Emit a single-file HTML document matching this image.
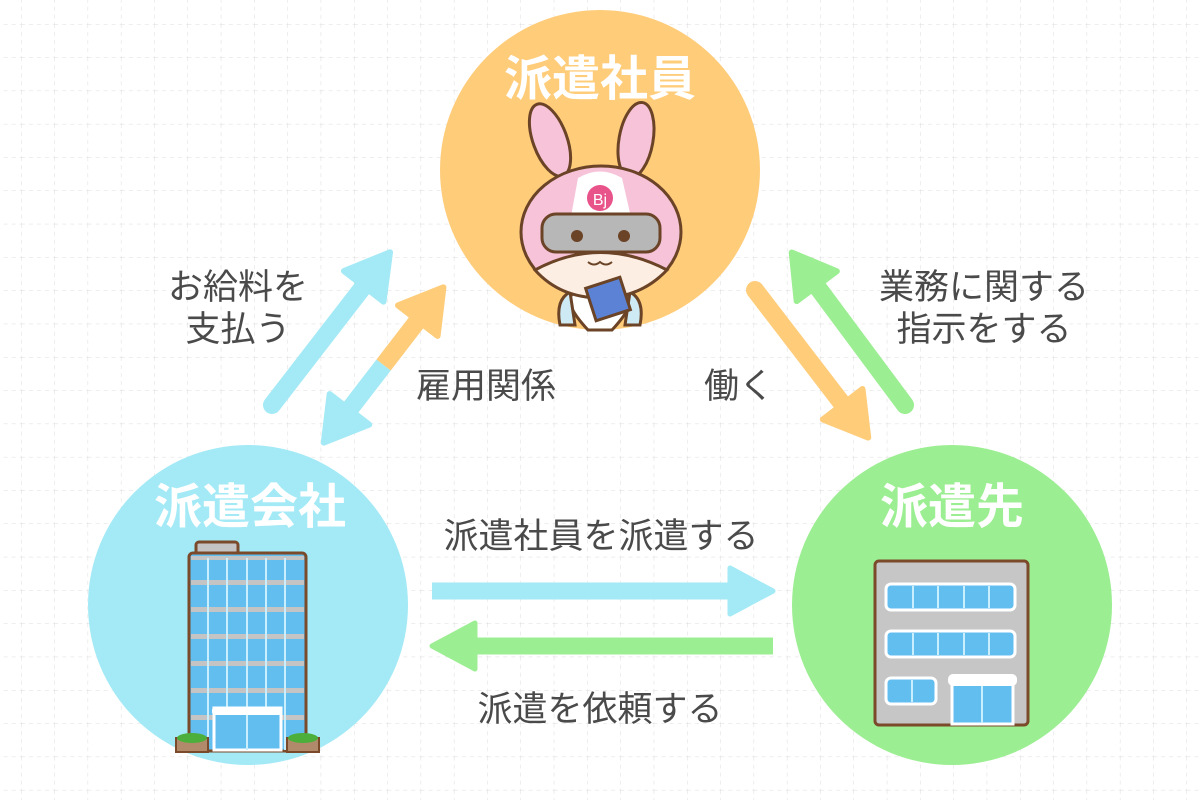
<!DOCTYPE html>
<html><head><meta charset="utf-8"><style>
html,body{margin:0;padding:0;background:#fff;}
svg{display:block}
text{font-family:"Liberation Sans","Noto Sans CJK JP",sans-serif;}
</style></head><body>
<svg width="1200" height="800" viewBox="0 0 1200 800" xmlns="http://www.w3.org/2000/svg">
<defs>
<pattern id="g" x="21" y="24" width="33.3" height="33.3" patternUnits="userSpaceOnUse">
<line x1="0" y1="0" x2="0" y2="33.3" stroke="#dcdcdc" stroke-width="1" stroke-dasharray="4,4"/>
<line x1="0" y1="0" x2="33.3" y2="0" stroke="#dcdcdc" stroke-width="1" stroke-dasharray="4,4"/>
</pattern>
</defs>
<rect width="1200" height="800" fill="#fff"/>
<rect width="1200" height="800" fill="url(#g)"/>

<circle cx="600" cy="170" r="160" fill="#FFCC7A"/>
<circle cx="248" cy="605" r="160" fill="#A3EAF6"/>
<circle cx="952" cy="605" r="160" fill="#9CEE92"/>

<g stroke-linejoin="round" stroke-linecap="round">
<g transform="translate(272,405) rotate(-52.3)">
<line x1="0" y1="0" x2="160" y2="0" stroke="#A3EAF6" stroke-width="18"/>
<polygon points="150,-25 193,0 150,25" fill="#A3EAF6" stroke="#A3EAF6" stroke-width="6"/>
</g>
<g transform="translate(322,445) rotate(-52.4)">
<line x1="40" y1="0" x2="101" y2="0" stroke="#A3EAF6" stroke-width="18" stroke-linecap="butt"/>
<line x1="101" y1="0" x2="165" y2="0" stroke="#FFCC7A" stroke-width="18" stroke-linecap="butt"/>
<polygon points="45,-25 3,0 45,25" fill="#A3EAF6" stroke="#A3EAF6" stroke-width="6"/>
<polygon points="157,-25 199,0 157,25" fill="#FFCC7A" stroke="#FFCC7A" stroke-width="6"/>
</g>
<g transform="translate(755,290) rotate(52.5)">
<line x1="0" y1="0" x2="150" y2="0" stroke="#FFCC7A" stroke-width="18"/>
<polygon points="144,-25 186,0 144,25" fill="#FFCC7A" stroke="#FFCC7A" stroke-width="6"/>
</g>
<g transform="translate(905,405) rotate(-126.6)">
<line x1="0" y1="0" x2="155" y2="0" stroke="#9CEE92" stroke-width="18"/>
<polygon points="148,-25 190,0 148,25" fill="#9CEE92" stroke="#9CEE92" stroke-width="6"/>
</g>
<line x1="432" y1="591" x2="735" y2="591" stroke="#A3EAF6" stroke-width="17" stroke-linecap="butt"/>
<polygon points="730,568 773,591 730,614" fill="#A3EAF6" stroke="#A3EAF6" stroke-width="5"/>
<line x1="773" y1="646" x2="470" y2="646" stroke="#9CEE92" stroke-width="17" stroke-linecap="butt"/>
<polygon points="475,623 432,646 475,669" fill="#9CEE92" stroke="#9CEE92" stroke-width="5"/>
</g>

<g font-weight="bold" fill="#fff" font-size="48" text-anchor="middle">
<text x="600" y="95">派遣社員</text>
<text x="250" y="523">派遣会社</text>
<text x="952" y="523">派遣先</text>
</g>
<g fill="#4a4a4a" font-size="35" text-anchor="middle">
<text x="238" y="299">お給料を</text>
<text x="238" y="341">支払う</text>
<text x="486" y="398">雇用関係</text>
<text x="739" y="398">働く</text>
<text x="984" y="299">業務に関する</text>
<text x="984" y="341">指示をする</text>
<text x="601" y="548">派遣社員を派遣する</text>
<text x="600" y="721">派遣を依頼する</text>
</g>

<g stroke="#6b4326" stroke-width="3">
<path d="M588,330 Q560,300 575,292 L625,292 Q640,300 612,330 Z" fill="#fff"/>
<path d="M570,292 Q555,300 560,325 L575,325 Z" fill="#CDEAF5"/>
<path d="M630,292 Q645,300 640,325 L625,325 Z" fill="#CDEAF5"/>
<ellipse cx="550" cy="140" rx="17" ry="38" fill="#F7C3D8" transform="rotate(-20 550 140)"/>
<ellipse cx="636" cy="140" rx="17" ry="38" fill="#F7C3D8" transform="rotate(10 636 140)"/>
<ellipse cx="601" cy="232" rx="80" ry="66" fill="#F7C3D8"/>
<path d="M535,270 Q600,235 667,270 Q640,298 601,298 Q560,298 535,270 Z" fill="#FDEEE3"/>
<path d="M578,178 Q600,165 622,178 L632,222 L570,222 Z" fill="#fff" stroke="none"/>
<rect x="542" y="214" width="118" height="38" rx="14" fill="#B7B7B7"/>
<circle cx="577" cy="236" r="6" fill="#6b4326" stroke="none"/>
<circle cx="624" cy="236" r="6" fill="#6b4326" stroke="none"/>
<path d="M588,262 q6,5 12,0 q6,5 12,0" fill="none" stroke-width="2"/>
<rect x="590" y="282" width="36" height="34" fill="#5C82D6" transform="rotate(-18 608 299)"/>
</g>
<circle cx="600" cy="198" r="13" fill="#E8538A"/>
<text x="600" y="205" font-size="16" fill="#fff" text-anchor="middle">Bj</text>

<g>
<rect x="196" y="542" width="42" height="14" rx="3" fill="#c4c4c4" stroke="#7a4a2a" stroke-width="3"/>
<rect x="189" y="553" width="117" height="198" rx="4" fill="#63BEF0" stroke="#7a4a2a" stroke-width="3"/>
<g fill="#c4c4c4">
<rect x="191" y="556" width="113" height="4"/>
<rect x="191" y="580" width="113" height="5"/>
<rect x="191" y="607" width="113" height="5"/>
<rect x="191" y="634" width="113" height="5"/>
<rect x="191" y="661" width="113" height="5"/>
<rect x="191" y="688" width="113" height="5"/>
<rect x="191" y="715" width="113" height="5"/>
</g>
<g stroke="#c9efff" stroke-width="2">
<line x1="208" y1="558" x2="208" y2="750"/><line x1="227" y1="558" x2="227" y2="750"/>
<line x1="247" y1="558" x2="247" y2="750"/><line x1="266" y1="558" x2="266" y2="750"/><line x1="285" y1="558" x2="285" y2="750"/>
</g>
<rect x="214" y="708" width="67" height="42" fill="#63BEF0" stroke="#fff" stroke-width="3"/>
<rect x="212" y="707" width="70" height="8" rx="3" fill="#fff"/>
<line x1="247" y1="715" x2="247" y2="750" stroke="#c9efff" stroke-width="2"/>
<rect x="176" y="738" width="32" height="14" fill="#b08a6a" stroke="#7a4a2a" stroke-width="2"/>
<ellipse cx="192" cy="738" rx="15" ry="5" fill="#4caf3c"/>
<rect x="287" y="738" width="32" height="14" fill="#b08a6a" stroke="#7a4a2a" stroke-width="2"/>
<ellipse cx="303" cy="738" rx="15" ry="5" fill="#4caf3c"/>
</g>

<g>
<rect x="875" y="561" width="153" height="164" rx="4" fill="#c6c6c6" stroke="#7a4a2a" stroke-width="3"/>
<rect x="886" y="584" width="129" height="26" rx="5" fill="#63BEF0" stroke="#fff" stroke-width="3"/>
<rect x="886" y="631" width="129" height="26" rx="5" fill="#63BEF0" stroke="#fff" stroke-width="3"/>
<rect x="886" y="678" width="50" height="26" rx="5" fill="#63BEF0" stroke="#fff" stroke-width="3"/>
<g stroke="#c9efff" stroke-width="2">
<line x1="913" y1="586" x2="913" y2="608"/><line x1="938" y1="586" x2="938" y2="608"/><line x1="964" y1="586" x2="964" y2="608"/><line x1="989" y1="586" x2="989" y2="608"/>
<line x1="913" y1="633" x2="913" y2="655"/><line x1="938" y1="633" x2="938" y2="655"/><line x1="964" y1="633" x2="964" y2="655"/><line x1="989" y1="633" x2="989" y2="655"/>
<line x1="912" y1="680" x2="912" y2="702"/>
</g>
<rect x="952" y="684" width="61" height="40" fill="#63BEF0" stroke="#fff" stroke-width="3"/>
<rect x="948" y="674" width="69" height="12" rx="5" fill="#fff"/>
<line x1="982" y1="686" x2="982" y2="723" stroke="#c9efff" stroke-width="2"/>
</g>
</svg>
</body></html>
